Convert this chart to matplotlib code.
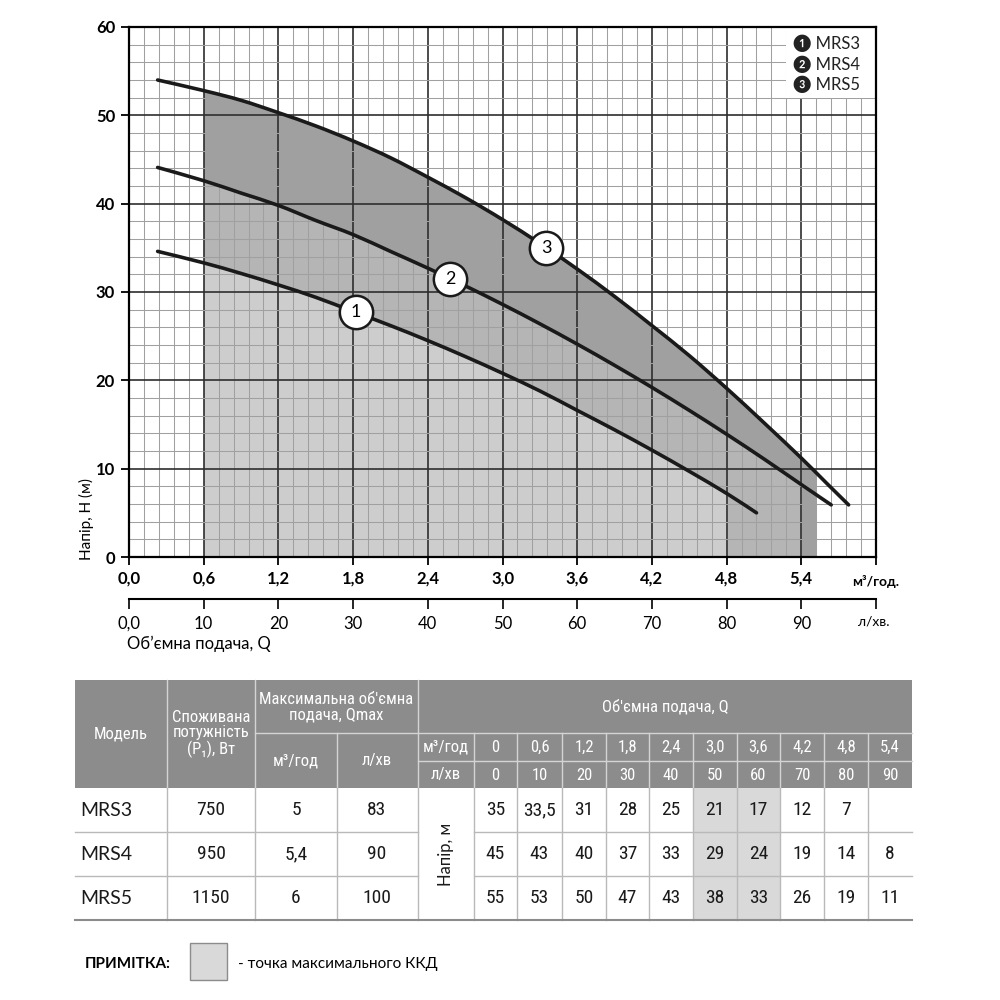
"""Pump performance chart MRS3 / MRS4 / MRS5 with data table."""

import numpy as np
import matplotlib
matplotlib.use("Agg")
import matplotlib.pyplot as plt
from matplotlib.patches import Rectangle, PathPatch
from matplotlib.path import Path

# curves: Q (м³/год) -> H (м)
q_mrs3 = [0.23, 0.6, 0.9, 1.2, 1.5, 1.8, 2.1, 2.4, 2.7, 3.0, 3.3, 3.6, 3.9, 4.2, 4.5, 4.8, 5.04]
h_mrs3 = [34.6, 33.3, 32.1, 30.8, 29.4, 27.8, 26.2, 24.5, 22.7, 20.8, 18.8, 16.6, 14.4, 12.1, 9.7, 7.2, 5.0]
q_mrs4 = [0.23, 0.6, 0.9, 1.2, 1.5, 1.8, 2.1, 2.4, 2.7, 3.0, 3.3, 3.6, 3.9, 4.2, 4.5, 4.8, 5.1, 5.4, 5.64]
h_mrs4 = [44.1, 42.6, 41.2, 39.8, 38.1, 36.5, 34.6, 32.7, 30.7, 28.6, 26.4, 24.1, 21.7, 19.2, 16.6, 13.9, 11.1, 8.2, 5.9]
q_mrs5 = [0.23, 0.6, 0.9, 1.2, 1.5, 1.8, 2.1, 2.4, 2.7, 3.0, 3.3, 3.6, 3.9, 4.2, 4.5, 4.8, 5.1, 5.4, 5.6, 5.78]
h_mrs5 = [54.0, 52.8, 51.7, 50.3, 48.8, 47.1, 45.2, 43.0, 40.7, 38.2, 35.5, 32.6, 29.5, 26.2, 22.8, 19.1, 15.2, 11.2, 8.4, 5.9]

# working ranges (shaded), м³/год
work_min = 0.6
work_max = [4.8, 5.4, 5.52]
label_q = [1.82, 2.58, 3.35]

x_ticks_m3h = [0.0, 0.6, 1.2, 1.8, 2.4, 3.0, 3.6, 4.2, 4.8, 5.4, 6.0]
x_labels_m3h = ["0,0", "0,6", "1,2", "1,8", "2,4", "3,0", "3,6", "4,2", "4,8", "5,4", ""]
x_ticks_lmin = [0, 10, 20, 30, 40, 50, 60, 70, 80, 90, 100]
x_labels_lmin = ["0,0", "10", "20", "30", "40", "50", "60", "70", "80", "90", ""]

# table
models = ["MRS3", "MRS4", "MRS5"]
power_w = ["750", "950", "1150"]
qmax_m3h = ["5", "5,4", "6"]
qmax_lmin = ["83", "90", "100"]
q_cols_m3h = ["0", "0,6", "1,2", "1,8", "2,4", "3,0", "3,6", "4,2", "4,8", "5,4"]
q_cols_lmin = ["0", "10", "20", "30", "40", "50", "60", "70", "80", "90"]
head_mrs3 = ["35", "33,5", "31", "28", "25", "21", "17", "12", "7", ""]
head_mrs4 = ["45", "43", "40", "37", "33", "29", "24", "19", "14", "8"]
head_mrs5 = ["55", "53", "50", "47", "43", "38", "33", "26", "19", "11"]
best_eff_cols = [5, 6]

CHART_FONT = ["Lato", "DejaVu Sans"]
NARROW_FONT = ["Roboto Condensed", "Roboto", "DejaVu Sans"]
plt.rcParams["font.family"] = CHART_FONT


def smooth_path(xs, ys):
    """Draw a curve through the points as Catmull-Rom style cubic Bezier segments."""
    p = np.column_stack([xs, ys])
    verts = [p[0]]
    codes = [Path.MOVETO]
    n = len(p)
    for i in range(n - 1):
        prev_p = p[i - 1] if i > 0 else p[i]
        next_p = p[i + 2] if i + 2 < n else p[i + 1]
        c1 = p[i] + (p[i + 1] - prev_p) / 6
        c2 = p[i + 1] - (next_p - p[i]) / 6
        verts += [c1, c2, p[i + 1]]
        codes += [Path.CURVE4] * 3
    return Path(verts, codes)


fig = plt.figure(figsize=(10, 10), dpi=100)

# ---- chart ----
ax = fig.add_axes([0.129, 0.443, 0.747, 0.530])
ax.set_xlim(0, 6.0)
ax.set_ylim(0, 60)

curves = [(q_mrs3, h_mrs3), (q_mrs4, h_mrs4), (q_mrs5, h_mrs5)]
fills = ["#cdcdcd", "#b5b5b5", "#a0a0a0"]
for i in (2, 1, 0):
    q, h = curves[i]
    poly = ax.fill_between(q, h, 0, color=fills[i], lw=0, zorder=1)
    clip = Rectangle((work_min, 0), work_max[i] - work_min, 60, transform=ax.transData)
    poly.set_clip_path(clip)

ax.set_xticks(x_ticks_m3h)
ax.set_xticklabels(x_labels_m3h, fontweight="bold", fontsize=12)
ax.set_yticks(range(0, 61, 10))
ax.set_yticklabels([str(v) for v in range(0, 61, 10)], fontweight="bold", fontsize=12)
ax.set_xticks(np.arange(0, 6.01, 0.12), minor=True)
ax.set_yticks(range(0, 61, 2), minor=True)
ax.tick_params(which="major", direction="out", length=6, width=1.3, pad=4)
ax.tick_params(which="minor", length=0)
ax.set_axisbelow(False)
ax.grid(which="minor", color="#a0a0a0", lw=0.75)
ax.grid(which="major", color="#2e2e2e", lw=1.2)
for s in ax.spines.values():
    s.set_linewidth(1.6)
    s.set_zorder(6)

for q, h in curves:
    ax.add_patch(PathPatch(smooth_path(q, h), fill=False, edgecolor="#1a1a1a", lw=2.6,
                           capstyle="round", zorder=3))

for i, (q, h) in enumerate(curves):
    yq = np.interp(label_q[i], q, h)
    ax.plot(label_q[i], yq, "o", ms=24, mfc="white", mec="#1a1a1a", mew=1.8, zorder=4)
    ax.text(label_q[i], yq, str(i + 1), ha="center", va="center", fontsize=13, zorder=5)

# legend box
ax.add_patch(Rectangle((5.28, 52.0), 0.72, 8.0, facecolor="white", edgecolor="none", zorder=2.7))
for i, (sym, name) in enumerate(zip(["❶", "❷", "❸"], models)):
    ax.text(5.33, 58.1 - i * 2.3, sym + " " + name, ha="left", va="center", fontsize=12,
            color="#222222", zorder=2.8)

fig.text(0.086, 0.44, "Напір, Н (м)", rotation=90, ha="center", va="bottom", fontsize=11)
fig.text(0.852, 0.418, "м³/год.", ha="left", va="center", fontsize=10, fontweight="bold")

# second flow axis, л/хв
ax2 = fig.add_axes([0.129, 0.401, 0.747, 0.0001])
ax2.set_xlim(0, 100)
ax2.set_xticks(x_ticks_lmin)
ax2.set_xticklabels(x_labels_lmin, fontsize=12)
ax2.set_yticks([])
ax2.patch.set_visible(False)
for k in ("left", "right", "top"):
    ax2.spines[k].set_visible(False)
ax2.spines["bottom"].set_linewidth(1.5)
ax2.tick_params(direction="out", length=7, width=1.2, pad=5)
fig.text(0.858, 0.379, "л/хв.", ha="left", va="center", fontsize=10)
fig.text(0.127, 0.356, "Об’ємна подача, Q", ha="left", va="center", fontsize=12)

# ---- table (pixel coordinates) ----
tb = fig.add_axes([0, 0, 1, 1])
tb.set_xlim(0, 1000)
tb.set_ylim(1000, 0)
tb.axis("off")

HDR = "#8c8c8c"
HLINE = "#d4d4d4"
GRID = "#b9b9b9"
x0, x1 = 75, 912
y_top, y_mid, y_sub, y_hdr = 680, 733, 761, 788
row_h = 44
col_main = [75, 167, 255, 337, 418, 474]
val_edges = [474, 517, 562, 606, 649, 693, 737, 780, 824, 868, 912]
val_cent = [(a + b) / 2 for a, b in zip(val_edges[:-1], val_edges[1:])]

tb.add_patch(Rectangle((x0, y_top), x1 - x0, y_hdr - y_top, facecolor=HDR, edgecolor="none"))
for x in (167, 255, 418):
    tb.plot([x, x], [y_top, y_hdr], color=HLINE, lw=1)
tb.plot([337, 337], [y_mid, y_hdr], color=HLINE, lw=1)
tb.plot([255, x1], [y_mid, y_mid], color=HLINE, lw=1)
tb.plot([418, x1], [y_sub, y_sub], color=HLINE, lw=1)
for x in val_edges[:-1]:
    tb.plot([x, x], [y_mid, y_hdr], color=HLINE, lw=1)

hdr_kw = dict(color="white", ha="center", va="center", fontsize=12, family=NARROW_FONT)
tb.text(121, 734, "Модель", **hdr_kw)
tb.text(211, 734, "Споживана\nпотужність\n(P₁), Вт", linespacing=1.0, **hdr_kw)
tb.text(336, 707, "Максимальна об'ємна\nподача, Qmax", linespacing=1.05, **hdr_kw)
tb.text(296, 761, "м³/год", **hdr_kw)
tb.text(377, 761, "л/хв", **hdr_kw)
tb.text(665, 707, "Об'ємна подача, Q", **hdr_kw)
tb.text(446, 747, "м³/год", **hdr_kw)
tb.text(446, 775, "л/хв", **hdr_kw)
for xc, a, b in zip(val_cent, q_cols_m3h, q_cols_lmin):
    tb.text(xc, 747, a, **hdr_kw)
    tb.text(xc, 775, b, **hdr_kw)

# data rows
y_bot = y_hdr + row_h * len(models)
for c in best_eff_cols:
    tb.add_patch(Rectangle((val_edges[c], y_hdr), val_edges[c + 1] - val_edges[c],
                           y_bot - y_hdr, facecolor="#d9d9d9", edgecolor="none"))
for x in col_main[1:] + val_edges[1:-1]:
    tb.plot([x, x], [y_hdr, y_bot], color=GRID, lw=1)
for r in range(1, len(models)):
    y = y_hdr + r * row_h
    tb.plot([x0, 418], [y, y], color=GRID, lw=1)
    tb.plot([474, x1], [y, y], color=GRID, lw=1)
tb.plot([x0, x1], [y_bot, y_bot], color="#8c8c8c", lw=1.5)

cell_kw = dict(ha="center", va="center", fontsize=14, color="#1a1a1a", family=NARROW_FONT)
heads = [head_mrs3, head_mrs4, head_mrs5]
for r, m in enumerate(models):
    yc = y_hdr + r * row_h + row_h / 2
    tb.text(80, yc, m, ha="left", va="center", fontsize=14, color="#1a1a1a")
    tb.text(211, yc, power_w[r], **cell_kw)
    tb.text(296, yc, qmax_m3h[r], **cell_kw)
    tb.text(377, yc, qmax_lmin[r], **cell_kw)
    for xc, v in zip(val_cent, heads[r]):
        tb.text(xc, yc, v, **cell_kw)
tb.text(446, (y_hdr + y_bot) / 2, "Напір, м", rotation=90, ha="center", va="center",
        fontsize=12, color="#1a1a1a")

# note
tb.text(85, 964, "ПРИМІТКА:", ha="left", va="center", fontsize=11, fontweight="bold")
tb.add_patch(Rectangle((190, 943), 37, 37, facecolor="#d9d9d9", edgecolor="#8c8c8c", lw=1))
tb.text(238, 964, "- точка максимального ККД", ha="left", va="center", fontsize=11)

fig.savefig("out.png", dpi=100)
